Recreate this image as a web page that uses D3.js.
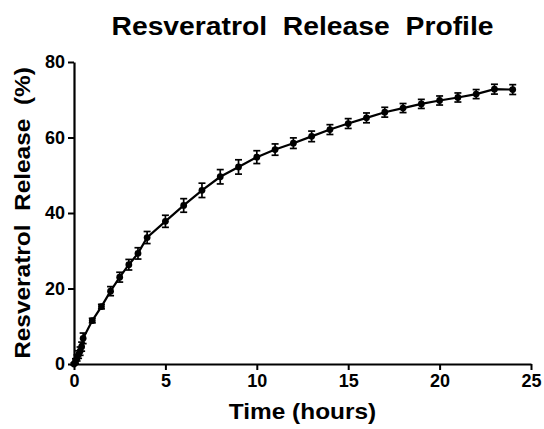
<!DOCTYPE html>
<html>
<head>
<meta charset="utf-8">
<script src="https://cdn.jsdelivr.net/npm/d3@7"></script>
<style>
  body { margin: 0; background: #fff; }
  text { font-family: "Liberation Sans", Arial, sans-serif; font-weight: bold; fill: #000; white-space: pre; }
</style>
</head>
<body>
<div id="chart"></div>
<script>
// release data (hours, % released, sem)
var hours = [0, 0.083, 0.167, 0.25, 0.333, 0.417, 0.5, 1, 1.5, 2, 2.5, 3, 3.5, 4,
             5, 6, 7, 8, 9, 10, 11, 12, 13, 14, 15, 16, 17, 18, 19, 20, 21, 22, 23, 24];
var release = [0, 0.8, 1.6, 2.5, 3.4, 4.6, 6.8, 11.5, 15.2, 19.3, 23.0, 26.3, 29.3, 33.5,
               37.8, 42.0, 46.0, 49.6, 52.2, 54.8, 56.8, 58.5, 60.3, 62.1, 63.7, 65.2, 66.7,
               67.8, 68.9, 69.8, 70.6, 71.5, 72.8, 72.7];
var sem = [0.3, 0.6, 0.8, 1.0, 1.1, 1.2, 1.4, 0.6, 0.6, 1.2, 1.3, 1.4, 1.5, 1.6,
           1.6, 1.8, 1.9, 1.9, 1.9, 1.7, 1.5, 1.4, 1.4, 1.3, 1.3, 1.3, 1.3,
           1.2, 1.2, 1.2, 1.2, 1.2, 1.3, 1.3];
var xTicks = [0, 5, 10, 15, 20, 25];
var yTicks = [0, 20, 40, 60, 80];

var data = hours.map(function(h, i) {
    return {t: h, v: release[i], e: sem[i]};
});

var width = 544, height = 429;
var margin = {top: 62, right: 13, bottom: 65, left: 74};
var stretch = 1.11; // text in the original is a bit wider than Liberation Sans

var svg = d3.select("#chart")
    .append("svg")
    .attr("width", width)
    .attr("height", height);

var x = d3.scaleLinear()
    .domain([0, 25])
    .range([margin.left, width - margin.right]);

var y = d3.scaleLinear()
    .domain([0, 80])
    .range([height - margin.bottom, margin.top]);

// axes
var xAxis = svg.append("g")
    .attr("transform", "translate(0," + y(0) + ")")
    .call(d3.axisBottom(x).tickValues(xTicks).tickSize(6).tickPadding(4).tickSizeOuter(0));

var yAxis = svg.append("g")
    .attr("transform", "translate(" + x(0) + ",0)")
    .call(d3.axisLeft(y).tickValues(yTicks).tickSize(6).tickPadding(3).tickSizeOuter(0));

[xAxis, yAxis].forEach(function(a) {
    a.select(".domain").attr("stroke", "#000").attr("stroke-width", 2.2);
    a.selectAll(".tick line").attr("stroke", "#000").attr("stroke-width", 2);
    a.selectAll(".tick text")
        .style("font-size", "18px")
        .style("font-family", "'Liberation Sans', Arial, sans-serif")
        .style("font-weight", "bold")
        .attr("fill", "#000");
});

// connecting line
var line = d3.line()
    .x(function(d) { return x(d.t); })
    .y(function(d) { return y(d.v); });

svg.append("path")
    .datum(data)
    .attr("fill", "none")
    .attr("stroke", "#000")
    .attr("stroke-width", 2.2)
    .attr("d", line);

// error bars
var bars = svg.append("g")
    .attr("stroke", "#000")
    .attr("stroke-width", 1.7);

bars.selectAll(".stem")
    .data(data)
    .enter()
    .append("line")
    .attr("x1", function(d) { return x(d.t); })
    .attr("x2", function(d) { return x(d.t); })
    .attr("y1", function(d) { return y(d.v - d.e); })
    .attr("y2", function(d) { return y(d.v + d.e); });

[1, -1].forEach(function(s) {
    bars.selectAll(".cap" + s)
        .data(data)
        .enter()
        .append("line")
        .attr("x1", function(d) { return x(d.t) - 3.5; })
        .attr("x2", function(d) { return x(d.t) + 3.5; })
        .attr("y1", function(d) { return y(d.v + s * d.e); })
        .attr("y2", function(d) { return y(d.v + s * d.e); });
});

// markers
svg.selectAll(".dot")
    .data(data)
    .enter()
    .append("circle")
    .attr("cx", function(d) { return x(d.t); })
    .attr("cy", function(d) { return y(d.v); })
    .attr("r", 3.4)
    .attr("fill", "#000");

// titles
var midX = (x(0) + x(25)) / 2;

svg.append("text")
    .attr("transform", "translate(" + midX + ",35) scale(" + stretch + ",1)")
    .attr("text-anchor", "middle")
    .style("font-size", "25.5px")
    .text("Resveratrol  Release  Profile");

svg.append("text")
    .attr("transform", "translate(" + midX + ",419) scale(" + stretch + ",1)")
    .attr("text-anchor", "middle")
    .style("font-size", "22px")
    .text("Time (hours)");

svg.append("text")
    .attr("transform", "translate(30," + ((y(0) + y(80)) / 2) + ") rotate(-90) scale(" + stretch + ",1)")
    .attr("text-anchor", "middle")
    .style("font-size", "22px")
    .text("Resveratrol  Release  (%)");
</script>
</body>
</html>
